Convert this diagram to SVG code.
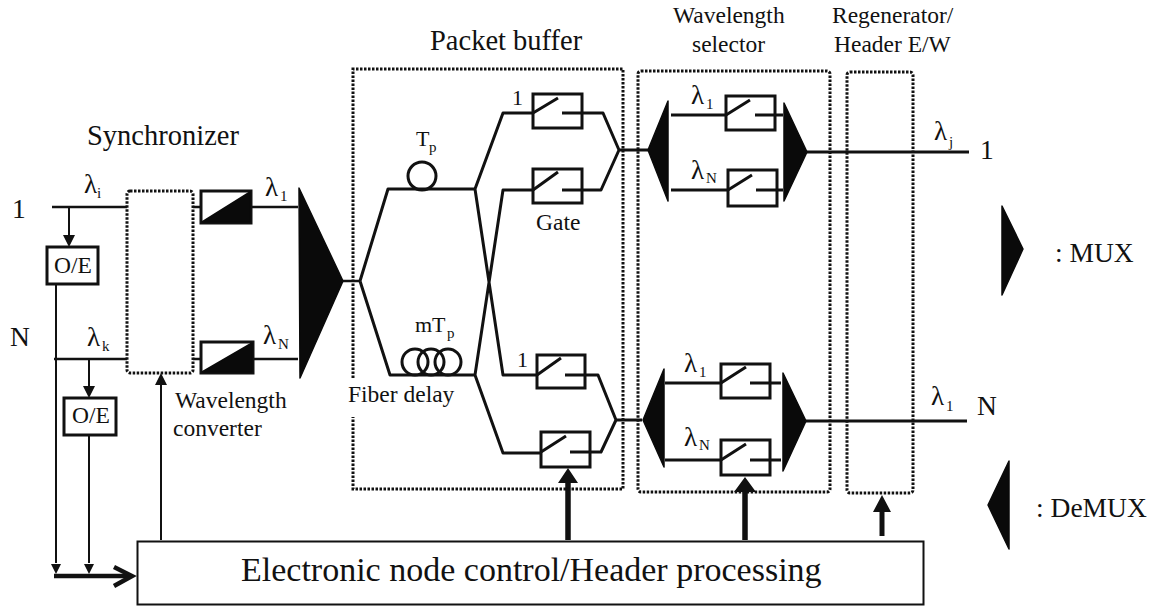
<svg xmlns="http://www.w3.org/2000/svg" width="1161" height="606" viewBox="0 0 1161 606">
<style>
text{font-family:"Liberation Serif","Times New Roman",serif;fill:#111}
.t{font-size:27.500px}.h{font-size:28.500px}.m{font-size:23.500px}.l{font-size:27px}.p{font-size:22px}.s{font-size:15px}.n{font-size:22px}
.w{fill:none;stroke:#111;stroke-width:2.5;stroke-linejoin:round}
.f{fill:none;stroke:#111;stroke-width:3;stroke-linejoin:round}
.c{fill:none;stroke:#111;stroke-width:2}
.d{fill:none;stroke:#111;stroke-width:3;stroke-dasharray:2.500 1.500}
.b{fill:#fff;stroke:#111;stroke-width:3}
.k{fill:#0a0a0a;stroke:#0a0a0a;stroke-width:1.500;stroke-linejoin:round}
.a{fill:#111}
</style>
<rect width="1161" height="606" fill="#fff"/>
<g id="connectors">
<path class="w" d="M52 207H127M193 207H200M251 207H298M54 359H127M193 359H200M253 359H298M343 281H360"/>
<path class="c" d="M69 207V235M89 359V386M56 285V563M89 436V563M161 540V385"/>
<path class="a" d="M63 235H75L69 247ZM83 386H95L89 398ZM51 564H61L56 574ZM84 564H94L89 574ZM155 385H167L161 373Z"/>
<path d="M54 576H128" fill="none" stroke="#111" stroke-width="4.500"/>
<path d="M114 567L132 576L114 586" fill="none" stroke="#111" stroke-width="4.500"/>
<path class="f" d="M360 281L388 189H475L503 113H533M475 189L503 375H537M360 281L390 375H475L503 190H533M475 375L503 453H541"/>
<path class="f" d="M582 113H603L619 150L601 190H582M585 375H598L616 420L601 452H590M619 150H648M616 420H642"/>
<path class="f" d="M671 115H726M775 115H783M671 190H728M777 190H783M665 383H721M770 383H781M665 460H721M770 460H781"/>
<path class="f" d="M807 152H969M806 421H967"/>
<path d="M568 540V480M745 540V490" stroke="#111" stroke-width="5.500" fill="none"/>
<path d="M882 536V510" stroke="#111" stroke-width="5" fill="none"/>
<path class="a" d="M558 483H578L568 468ZM734 492H756L745 477ZM873 512H891L882 495Z"/>
</g>
<g id="synchronizer"><rect class="d" x="127" y="191" width="66" height="182" rx="3"/><text class="h" x="87" y="145">Synchronizer</text></g>
<g id="oe-1"><rect class="b" x="47" y="247" width="51" height="37"/><text class="m" x="54" y="273">O/E</text></g>
<g id="oe-2"><rect class="b" x="64" y="398" width="52" height="37"/><text class="m" x="72" y="423">O/E</text></g>
<g id="converter-1"><rect class="b" x="201" y="191" width="50" height="32"/><path class="k" d="M202 222L250 192V222Z"/></g>
<g id="converter-2"><rect class="b" x="201" y="342" width="52" height="31"/><path class="k" d="M202 372L252 343V372Z"/></g>
<g id="mux-main"><path class="k" d="M299 188L343 281L300 378Z"/></g>
<g id="packet-buffer">
<path class="d" d="M353 378V69H623V489H353V417"/>
<text class="h" x="430" y="50">Packet buffer</text>
<text class="m" x="348" y="402">Fiber delay</text>
<text class="m" x="536" y="230">Gate</text>
<circle class="f" cx="422" cy="176" r="14"/>
<text class="p" x="416" y="146">T</text><text class="s" x="429" y="152">p</text>
<circle class="f" cx="415" cy="362" r="13"/><circle class="f" cx="431" cy="362" r="13"/><circle class="f" cx="448" cy="362" r="13"/>
<text class="p" x="415" y="332">mT</text><text class="s" x="447" y="338">p</text>
<text class="n" x="512" y="105">1</text><text class="n" x="517" y="367">1</text>
</g>
<g id="gate-1"><rect class="b" x="533" y="94" width="49" height="34"/><path class="f" d="M533 113L558 98M562 113H582"/></g>
<g id="gate-2"><rect class="b" x="533" y="169" width="49" height="34"/><path class="f" d="M533 190L558 172M562 190H582"/></g>
<g id="gate-3"><rect class="b" x="537" y="355" width="48" height="33"/><path class="f" d="M537 375L561 358M565 375H585"/></g>
<g id="gate-4"><rect class="b" x="541" y="432" width="49" height="35"/><path class="f" d="M541 452L566 436M570 452H590"/></g>
<g id="wavelength-selector">
<rect class="d" x="638" y="71" width="192" height="421" rx="3"/>
<text class="m" x="673" y="23">Wavelength</text><text class="m" x="692" y="52">selector</text>
<text class="l" x="691" y="104">λ</text><text class="s" x="706" y="109">1</text>
<text class="l" x="691" y="179">λ</text><text class="s" x="706" y="183">N</text>
<text class="l" x="684" y="372">λ</text><text class="s" x="699" y="377">1</text>
<text class="l" x="684" y="446">λ</text><text class="s" x="699" y="450">N</text>
</g>
<g id="selector-gate-1"><rect class="b" x="726" y="96" width="49" height="34"/><path class="f" d="M726 115L750 100M755 115H775"/></g>
<g id="selector-gate-2"><rect class="b" x="728" y="170" width="49" height="36"/><path class="f" d="M728 190L752 175M756 190H777"/></g>
<g id="selector-gate-3"><rect class="b" x="721" y="364" width="49" height="34"/><path class="f" d="M721 383L746 367M750 383H770"/></g>
<g id="selector-gate-4"><rect class="b" x="721" y="440" width="49" height="35"/><path class="f" d="M721 460L746 444M750 460H770"/></g>
<g id="demux-1"><path class="k" d="M668 101L648 150L668 201Z"/></g>
<g id="demux-2"><path class="k" d="M664 369L643 420L664 467Z"/></g>
<g id="mux-1"><path class="k" d="M784 103L807 152L784 201Z"/></g>
<g id="mux-2"><path class="k" d="M783 373L806 421L783 471Z"/></g>
<g id="regenerator">
<rect class="d" x="847" y="72" width="66" height="421" rx="3"/>
<text class="m" x="832" y="23">Regenerator/</text><text class="m" x="834" y="52">Header E/W</text>
</g>
<g id="control"><rect x="137.500" y="541.500" width="786" height="63" fill="#fff" stroke="#111" stroke-width="2"/><text x="241" y="581" font-size="34">Electronic node control/Header processing</text></g>
<g id="labels">
<text class="t" x="12" y="218">1</text><text class="t" x="10" y="346">N</text>
<text class="l" x="84" y="193">λ</text><text class="s" x="97" y="198">i</text>
<text class="l" x="87" y="346">λ</text><text class="s" x="102" y="351">k</text>
<text class="l" x="265" y="196">λ</text><text class="s" x="280" y="201">1</text>
<text class="l" x="263" y="344">λ</text><text class="s" x="278" y="349">N</text>
<text class="m" x="175" y="408">Wavelength</text><text class="m" x="173" y="436">converter</text>
<text class="l" x="934" y="140">λ</text><text class="s" x="949" y="147">j</text><text class="t" x="980" y="159">1</text>
<text class="l" x="931" y="405">λ</text><text class="s" x="946" y="411">1</text><text class="t" x="977" y="415">N</text>
</g>
<g id="legend-mux"><path class="k" d="M1002 206L1023 249L1002 295Z"/><text class="t" x="1055" y="262">: MUX</text></g>
<g id="legend-demux"><path class="k" d="M1009 461L988 505L1009 549Z"/><text class="t" x="1036" y="517">: DeMUX</text></g>
</svg>
